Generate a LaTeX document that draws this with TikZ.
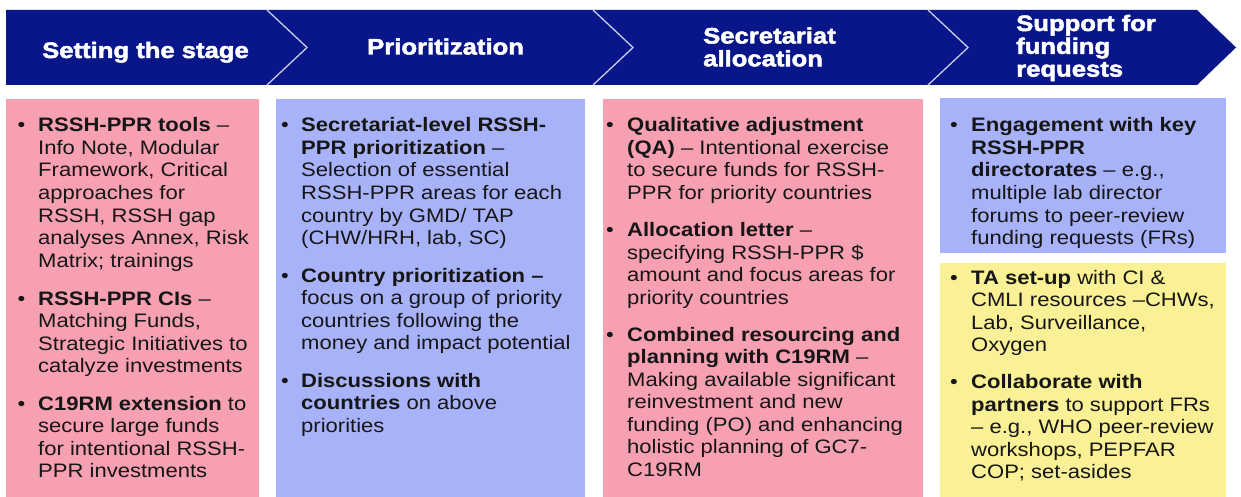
\documentclass[tikz,border=0pt]{standalone}
\usepackage{fontspec}
\setmainfont{Liberation Sans}[FakeStretch=1.13]
\newfontfamily\hdrfont{Liberation Sans Bold}[FakeStretch=1.15,FakeBold=2.2]
\definecolor{navyc}{RGB}{8,22,138}
\definecolor{sepc}{RGB}{200,205,235}
\definecolor{pinkc}{RGB}{246,160,178}
\definecolor{bluec}{RGB}{168,178,248}
\definecolor{yellowc}{RGB}{250,240,150}
\definecolor{txtc}{RGB}{22,22,22}
\begin{document}
\begin{tikzpicture}[x=1pt,y=-1pt,
  panel/.style={draw=none,inner sep=0pt,outer sep=0pt,anchor=north west},
  hdr/.style={inner sep=0pt,anchor=base west,text=white,font=\hdrfont\fontsize{22.3}{22.8}\selectfont},
  txt/.style={inner sep=0pt,anchor=base west,text=txtc,font=\fontsize{19.5}{22.5}\selectfont},
  bul/.style={inner sep=0pt,anchor=base,text=txtc,font=\fontsize{19.5}{22.5}\selectfont}]
\useasboundingbox (0,0) rectangle (1241,497);
\fill[white] (0,0) rectangle (1241,497);
% header band
\fill[navyc] (6,10) -- (1197,10) -- (1236,47.5) -- (1197,85) -- (6,85) -- cycle;
\coordinate (s1a) at (267,10); \coordinate (s1b) at (307,47.5); \coordinate (s1c) at (267,85);
\coordinate (s2a) at (593,10); \coordinate (s2b) at (633,47.5); \coordinate (s2c) at (593,85);
\coordinate (s3a) at (928,10); \coordinate (s3b) at (968,47.5); \coordinate (s3c) at (928,85);
\draw[sepc,line width=1.3pt] (s1a) -- (s1b) -- (s1c);
\draw[sepc,line width=1.3pt] (s2a) -- (s2b) -- (s2c);
\draw[sepc,line width=1.3pt] (s3a) -- (s3b) -- (s3c);
% header texts
\node[hdr] (h1) at (42,58) {Setting the stage};
\node[hdr] (h2) at (367,54.5) {Prioritization};
\node[hdr] (h3) at (703,43.5) {\parbox[t]{200pt}{Secretariat\\allocation}};
\node[hdr] (h4) at (1016,31) {\parbox[t]{200pt}{Support for\\funding\\requests}};
% panels
\node[panel,fill=pinkc,minimum width=253pt,minimum height=398pt] (p1) at (6,99) {};
\node[panel,fill=bluec,minimum width=309pt,minimum height=398pt] (p2) at (276,99) {};
\node[panel,fill=pinkc,minimum width=320pt,minimum height=398pt] (p3) at (603,99) {};
\node[panel,fill=bluec,minimum width=286pt,minimum height=155pt] (p4a) at (940,98) {};
\node[panel,fill=yellowc,minimum width=286pt,minimum height=234pt] (p4b) at (940,263) {};
% column 1
\node[bul] (b11) at (21.5,132) {•};
\node[txt] (t11) at (38,132) {\parbox[t]{300pt}{\textbf{RSSH-PPR tools} –\\Info Note, Modular\\Framework, Critical\\approaches for\\RSSH, RSSH gap\\analyses Annex, Risk\\Matrix; trainings}};
\node[bul] (b12) at (21.5,305) {•};
\node[txt] (t12) at (38,305) {\parbox[t]{300pt}{\textbf{RSSH-PPR CIs} –\\Matching Funds,\\Strategic Initiatives to\\catalyze investments}};
\node[bul] (b13) at (21.5,410) {•};
\node[txt] (t13) at (38,410) {\parbox[t]{300pt}{\textbf{C19RM extension} to\\secure large funds\\for intentional RSSH-\\PPR investments}};
% column 2
\node[bul] (b21) at (285,132) {•};
\node[txt] (t21) at (301,132) {\parbox[t]{330pt}{\textbf{Secretariat-level RSSH-}\\\textbf{PPR prioritization} –\\Selection of essential\\RSSH-PPR areas for each\\country by GMD/ TAP\\(CHW/HRH, lab, SC)}};
\node[bul] (b22) at (285,282) {•};
\node[txt] (t22) at (301,282) {\parbox[t]{330pt}{\textbf{Country prioritization –}\\focus on a group of priority\\countries following the\\money and impact potential}};
\node[bul] (b23) at (285,387) {•};
\node[txt] (t23) at (301,387) {\parbox[t]{330pt}{\textbf{Discussions with}\\\textbf{countries} on above\\priorities}};
% column 3
\node[bul] (b31) at (610,132) {•};
\node[txt] (t31) at (627,132) {\parbox[t]{330pt}{\textbf{Qualitative adjustment}\\\textbf{(QA)} – Intentional exercise\\to secure funds for RSSH-\\PPR for priority countries}};
\node[bul] (b32) at (610,236.5) {•};
\node[txt] (t32) at (627,236.5) {\parbox[t]{330pt}{\textbf{Allocation letter} –\\specifying RSSH-PPR \$\\amount and focus areas for\\priority countries}};
\node[bul] (b33) at (610,341) {•};
\node[txt] (t33) at (627,341) {\parbox[t]{330pt}{\textbf{Combined resourcing and}\\\textbf{planning with C19RM} –\\Making available significant\\reinvestment and new\\funding (PO) and enhancing\\holistic planning of GC7-\\C19RM}};
% column 4
\node[bul] (b41) at (954,132) {•};
\node[txt] (t41) at (971,132) {\parbox[t]{300pt}{\textbf{Engagement with key}\\\textbf{RSSH-PPR}\\\textbf{directorates} – e.g.,\\multiple lab director\\forums to peer-review\\funding requests (FRs)}};
\node[bul] (b42) at (954,284) {•};
\node[txt] (t42) at (971,284) {\parbox[t]{300pt}{\textbf{TA set-up} with CI \&\\CMLI resources –CHWs,\\Lab, Surveillance,\\Oxygen}};
\node[bul] (b43) at (954,388.5) {•};
\node[txt] (t43) at (971,388.5) {\parbox[t]{300pt}{\textbf{Collaborate with}\\\textbf{partners} to support FRs\\– e.g., WHO peer-review\\workshops, PEPFAR\\COP; set-asides}};
\end{tikzpicture}
\end{document}
